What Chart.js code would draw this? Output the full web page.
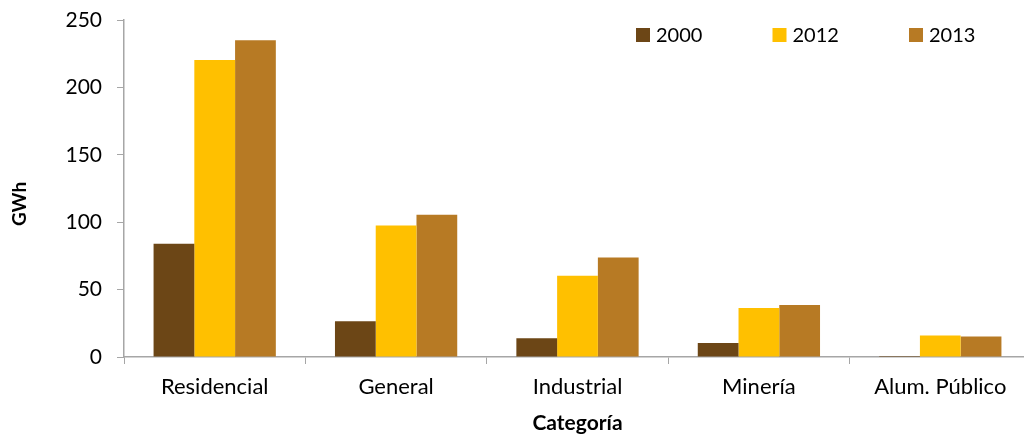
<!DOCTYPE html>
<html lang="es">
<head>
  <meta charset="UTF-8" />
  <title>GWh por categoría</title>
  <script src="https://cdn.jsdelivr.net/npm/chart.js"></script>
  <style>
    html, body { margin: 0; padding: 0; background: #fff; overflow: hidden; }
    #wrap { width: 1024px; height: 436px; overflow: hidden; }
  </style>
</head>
<body>
  <div id="wrap">
    <canvas id="chart" width="1040" height="436"></canvas>
  </div>

  <script>
    // data
    const categories = ['Residencial', 'General', 'Industrial', 'Minería', 'Alum. Público'];
    const years = ['2000', '2012', '2013'];
    const values2000 = [84, 26.5, 14, 10.4, 0.8];
    const values2012 = [220.3, 97.6, 60.3, 36.3, 16];
    const values2013 = [235, 105.5, 73.8, 38.5, 15.3];
    const yTicks = [0, 50, 100, 150, 200, 250];

    const colors = ['#6C4616', '#FFC000', '#B77A24'];
    const axisColor = '#A6A6A6';
    const fontFamily = 'Lato, "Open Sans", sans-serif';

    // legend inside the plot area (top right) + y axis title
    const extras = {
      id: 'extras',
      afterDraw(chart) {
        const ctx = chart.ctx;
        ctx.save();
        ctx.font = '20px ' + fontFamily;
        ctx.textBaseline = 'middle';
        chart.data.datasets.forEach((ds, i) => {
          const x = 636 + i * 136.5;
          const y = 35;
          ctx.fillStyle = ds.backgroundColor;
          ctx.fillRect(x, y - 7, 14, 14);
          ctx.fillStyle = '#000';
          ctx.fillText(ds.label, x + 20, y + 1);
        });

        // GWh title, rotated
        ctx.translate(20, 204);
        ctx.rotate(-Math.PI / 2);
        ctx.textAlign = 'center';
        ctx.font = 'bold 19px ' + fontFamily;
        ctx.fillStyle = '#000';
        ctx.fillText('GWh', 0, 0);
        ctx.restore();
      }
    };

    new Chart(document.getElementById('chart'), {
      type: 'bar',
      data: {
        labels: categories,
        datasets: [
          { label: years[0], data: values2000, backgroundColor: colors[0] },
          { label: years[1], data: values2012, backgroundColor: colors[1] },
          { label: years[2], data: values2013, backgroundColor: colors[2] }
        ]
      },
      options: {
        responsive: false,
        animation: false,
        layout: { padding: { top: 20, right: 9, bottom: 0, left: 0 } },
        datasets: {
          bar: { categoryPercentage: 0.674, barPercentage: 1.0 }
        },
        plugins: {
          legend: { display: false },
          tooltip: { enabled: false }
        },
        scales: {
          x: {
            afterFit: s => { s.height = 79; s.paddingLeft = 0; s.paddingRight = 0; },
            grid: {
              drawOnChartArea: false,
              tickLength: 7,
              color: axisColor,
              offset: true
            },
            border: { color: axisColor, width: 1.5 },
            ticks: {
              color: '#000',
              font: { family: fontFamily, size: 22 },
              padding: 10,
              maxRotation: 0
            },
            title: {
              display: true,
              text: 'Categoría',
              color: '#000',
              font: { family: fontFamily, size: 21, weight: 'bold' },
              padding: { bottom: 0 }
            }
          },
          y: {
            min: 0,
            max: 250,
            afterFit: s => { s.width = 124; s.paddingTop = 0; s.paddingBottom = 0; },
            afterBuildTicks: s => { s.ticks = yTicks.map(v => ({ value: v })); },
            grid: {
              drawOnChartArea: false,
              tickLength: 7,
              color: axisColor
            },
            border: { color: axisColor, width: 1.5 },
            ticks: {
              color: '#000',
              font: { family: fontFamily, size: 21 },
              padding: 15
            }
          }
        }
      },
      plugins: [extras]
    });
  </script>
</body>
</html>
